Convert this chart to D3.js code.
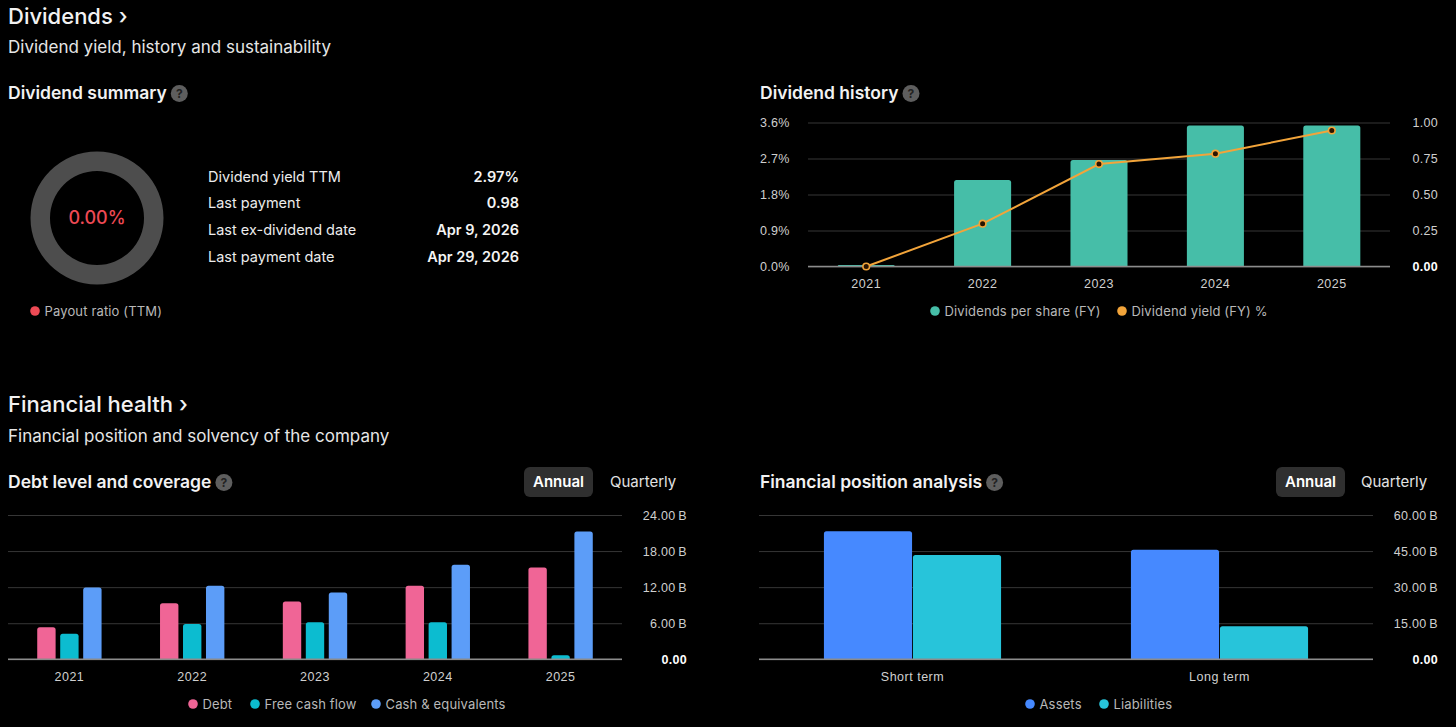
<!DOCTYPE html>
<html>
<head>
<meta charset="utf-8">
<script src="https://cdn.jsdelivr.net/npm/d3@7"></script>
<style>
html, body { margin: 0; background: #000; }
svg { display: block; font-family: Inter, "Noto Sans", sans-serif; }
</style>
</head>
<body>
<svg id="chart" width="1456" height="727"></svg>
<script>
// dividend summary
var summaryLabels = ["Dividend yield TTM", "Last payment", "Last ex-dividend date", "Last payment date"];
var summaryValues = ["2.97%", "0.98", "Apr 9, 2026", "Apr 29, 2026"];
var payoutRatio = [0.00];

// dividend history
var divYears = ["2021", "2022", "2023", "2024", "2025"];
var dividendsPerShare = [0.01, 0.60, 0.74, 0.98, 0.98];
var dividendYield = [0.00, 1.07, 2.56, 2.82, 3.40];
var yieldTicks = [0, 0.9, 1.8, 2.7, 3.6];
var dpsTicks = [0, 0.25, 0.5, 0.75, 1.0];

// debt level and coverage (billions)
var debtYears = ["2021", "2022", "2023", "2024", "2025"];
var debtSeries = ["Debt", "Free cash flow", "Cash & equivalents"];
var debt = [5.33, 9.33, 9.6, 12.22, 15.27];
var freeCashFlow = [4.27, 5.88, 6.17, 6.17, 0.67];
var cashEquivalents = [11.93, 12.22, 11.1, 15.72, 21.27];
var debtTicks = [0, 6, 12, 18, 24];

// financial position analysis (billions)
var positionTerms = ["Short term", "Long term"];
var positionSeries = ["Assets", "Liabilities"];
var assets = [53.2, 45.6];
var liabilities = [43.4, 13.7];
var positionTicks = [0, 15, 30, 45, 60];

var svg = d3.select("#chart");
svg.append("rect").attr("width", 1456).attr("height", 727).attr("fill", "#000");

// ---------- helpers ----------
function heading(x, y, txt, size, weight, color) {
    return svg.append("text").attr("x", x).attr("y", y)
        .attr("fill", color || "#f2f2f2")
        .style("font-size", size + "px").style("font-weight", weight)
        .text(txt);
}

function helpIcon(t) {
    var box = t.node().getBBox();
    var cx = box.x + box.width + 12.5, cy = box.y + box.height / 2 + 1;
    svg.append("circle").attr("cx", cx).attr("cy", cy).attr("r", 8.5).attr("fill", "#5e5e5e");
    svg.append("text").attr("x", cx).attr("y", cy).attr("dy", "0.36em")
        .attr("text-anchor", "middle").attr("fill", "#222")
        .style("font-size", "12px").style("font-weight", 700).text("?");
}

function topRounded(x, y, w, h, r) {
    r = Math.min(r, h, w / 2);
    return "M" + x + "," + (y + h) + "V" + (y + r) + "Q" + x + "," + y + " " + (x + r) + "," + y +
        "H" + (x + w - r) + "Q" + (x + w) + "," + y + " " + (x + w) + "," + (y + r) + "V" + (y + h) + "Z";
}

function grid(y, ticks, x0, x1) {
    svg.append("g").attr("transform", "translate(" + x0 + ",0)")
        .call(d3.axisRight(y).tickValues(ticks).tickSize(x1 - x0).tickFormat(""))
        .call(function (a) { a.select(".domain").remove(); })
        .call(function (a) { a.selectAll(".tick line").attr("stroke", "#363636"); });
}

function baseline(y, x0, x1) {
    svg.append("line").attr("x1", x0).attr("x2", x1)
        .attr("y1", y(0)).attr("y2", y(0))
        .attr("stroke", "#8c8c8c").attr("stroke-width", 1.5);
}

function yLabels(y, ticks, xPos, anchor, fmt) {
    svg.append("g").attr("transform", "translate(" + xPos + ",0)")
        .attr("font-family", null).attr("font-size", null)
        .call(d3.axisRight(y).tickValues(ticks).tickSize(0).tickPadding(0).tickFormat(fmt))
        .call(function (a) { a.select(".domain").remove(); })
        .call(function (a) {
            a.selectAll("text")
                .attr("text-anchor", anchor)
                .attr("fill", function (d) { return d === 0 && anchor === "end" ? "#ffffff" : "#cfcfcf"; })
                .style("font-size", "12.5px")
                .style("font-weight", function (d) { return d === 0 && anchor === "end" ? 700 : 400; })
                .style("letter-spacing", "0.3px");
        });
}

function xLabels(x, yPos) {
    svg.append("g").attr("transform", "translate(0," + yPos + ")")
        .attr("font-family", null).attr("font-size", null)
        .call(d3.axisBottom(x).tickSize(0).tickPadding(13))
        .call(function (a) { a.select(".domain").remove(); })
        .call(function (a) {
            a.selectAll("text").attr("fill", "#d0d0d0")
                .style("font-size", "12.5px").style("letter-spacing", "0.5px");
        });
}

function legend(items, xs, y) {
    items.forEach(function (it, i) {
        svg.append("circle").attr("cx", xs[i]).attr("cy", y).attr("r", 4.8).attr("fill", it.color);
        svg.append("text").attr("x", xs[i] + 9.5).attr("y", y).attr("dy", "0.35em")
            .attr("fill", "#b8b8b8").style("font-size", "13px").style("letter-spacing", "0.15px").text(it.name);
    });
}

function toggle(xBtn, xQuarter) {
    svg.append("rect").attr("x", xBtn).attr("y", 467).attr("width", 69).attr("height", 30)
        .attr("rx", 6).attr("fill", "#2f2f2f");
    svg.append("text").attr("x", xBtn + 34.5).attr("y", 482).attr("dy", "0.35em")
        .attr("text-anchor", "middle").attr("fill", "#fff")
        .style("font-size", "15px").style("font-weight", 600).text("Annual");
    svg.append("text").attr("x", xQuarter).attr("y", 482).attr("dy", "0.35em")
        .attr("fill", "#e2e2e2").style("font-size", "15px").text("Quarterly");
}

// ---------- Dividends header ----------
heading(8, 24, "Dividends \u203A", 22, 500);
heading(8, 53, "Dividend yield, history and sustainability", 17, 400, "#e6e6e6");
helpIcon(heading(8, 99, "Dividend summary", 17.5, 600));
helpIcon(heading(760, 99, "Dividend history", 17.5, 600));

// ---------- donut ----------
var cx = 97, cy = 218;
var arc = d3.arc().innerRadius(47).outerRadius(66.5);
svg.append("path").attr("transform", "translate(" + cx + "," + cy + ")")
    .attr("d", arc({ startAngle: 0, endAngle: 2 * Math.PI })).attr("fill", "#4d4d4d");
svg.append("path").attr("transform", "translate(" + cx + "," + cy + ")")
    .attr("d", arc({ startAngle: 0, endAngle: 2 * Math.PI * payoutRatio[0] / 100 })).attr("fill", "#ee4a55");
svg.append("text").attr("x", cx).attr("y", cy).attr("dy", "0.35em").attr("text-anchor", "middle")
    .attr("fill", "#ee4a55").style("font-size", "18px").style("font-weight", 500)
    .text(payoutRatio[0].toFixed(2) + "%");
legend([{ name: "Payout ratio (TTM)", color: "#ee4a55" }], [35], 311);

// summary table
summaryLabels.forEach(function (lab, i) {
    var y = 181.5 + i * 26.7;
    svg.append("text").attr("x", 208).attr("y", y).attr("fill", "#ececec")
        .style("font-size", "14.5px").text(lab);
    svg.append("text").attr("x", 519).attr("y", y).attr("text-anchor", "end").attr("fill", "#f4f4f4")
        .style("font-size", "14.5px").style("font-weight", 600).text(summaryValues[i]);
});

// ---------- dividend history ----------
var dx = d3.scaleBand().domain(divYears).range([808, 1390]).paddingInner(0.51).paddingOuter(0.255);
var yDps = d3.scaleLinear().domain([0, 1]).range([266.5, 122.5]);
var yYield = d3.scaleLinear().domain([0, 3.6]).range([266.5, 122.5]);

grid(yDps, dpsTicks, 808, 1390);
svg.append("g").selectAll("path").data(divYears).enter().append("path")
    .attr("d", function (d, i) {
        var top = yDps(dividendsPerShare[i]);
        return topRounded(dx(d), top, dx.bandwidth(), yDps(0) - top, 2.5);
    })
    .attr("fill", "#46bea8");
baseline(yDps, 808, 1390);

var line = d3.line()
    .x(function (d, i) { return dx(divYears[i]) + dx.bandwidth() / 2; })
    .y(function (d) { return yYield(d); });
svg.append("path").datum(dividendYield).attr("d", line)
    .attr("fill", "none").attr("stroke", "#f2a43a").attr("stroke-width", 2);
svg.append("g").selectAll("circle").data(dividendYield).enter().append("circle")
    .attr("cx", function (d, i) { return dx(divYears[i]) + dx.bandwidth() / 2; })
    .attr("cy", function (d) { return yYield(d); })
    .attr("r", 3.3).attr("fill", "#2a1400").attr("stroke", "#f2a43a").attr("stroke-width", 1.6);

yLabels(yYield, yieldTicks, 760, "start", function (d) { return d.toFixed(1) + "%"; });
yLabels(yDps, dpsTicks, 1438, "end", function (d) { return d.toFixed(2); });
xLabels(dx, 266.5);
legend([{ name: "Dividends per share (FY)", color: "#46bea8" },
        { name: "Dividend yield (FY) %", color: "#f2a43a" }], [935, 1122], 311);

// ---------- Financial health header ----------
heading(8, 412, "Financial health \u203A", 22, 500);
heading(8, 442, "Financial position and solvency of the company", 17, 400, "#e6e6e6");
helpIcon(heading(8, 488, "Debt level and coverage", 17.5, 600));
helpIcon(heading(760, 488, "Financial position analysis", 17.5, 600));
toggle(524, 610);
toggle(1276, 1361);

// ---------- debt level and coverage ----------
var debtColors = ["#f06596", "#0cbcd0", "#5c9df8"];
var debtValues = [debt, freeCashFlow, cashEquivalents];
var bx = d3.scaleBand().domain(debtYears).range([8, 622]).paddingInner(0.476).paddingOuter(0.238);
var bsub = d3.scaleBand().domain(debtSeries).range([0, bx.bandwidth()]).paddingInner(0.2);
var by = d3.scaleLinear().domain([0, 24]).range([659.3, 515]);

grid(by, debtTicks, 8, 622);
svg.append("g").selectAll("g").data(debtYears).enter().append("g")
    .attr("transform", function (d) { return "translate(" + bx(d) + ",0)"; })
    .selectAll("path")
    .data(function (d, i) { return debtSeries.map(function (s, j) { return { key: s, value: debtValues[j][i], color: debtColors[j] }; }); })
    .enter().append("path")
    .attr("d", function (d) {
        var top = by(d.value);
        return topRounded(bsub(d.key), top, bsub.bandwidth(), by(0) - top, 2.5);
    })
    .attr("fill", function (d) { return d.color; });
baseline(by, 8, 622);
yLabels(by, debtTicks, 687, "end", function (d) { return d === 0 ? "0.00" : d.toFixed(2) + "\u2009B"; });
xLabels(bx, 659.3);
legend(debtSeries.map(function (s, j) { return { name: s, color: debtColors[j] }; }), [193, 255, 376], 704);

// ---------- financial position analysis ----------
var posColors = ["#4689ff", "#27c4da"];
var posValues = [assets, liabilities];
var px = d3.scaleBand().domain(positionTerms).range([759, 1373]).paddingInner(0.423).paddingOuter(0.2115);
var psub = d3.scaleBand().domain(positionSeries).range([0, px.bandwidth()]).paddingInner(0.01);
var py = d3.scaleLinear().domain([0, 60]).range([659.3, 515]);

grid(py, positionTicks, 759, 1373);
svg.append("g").selectAll("g").data(positionTerms).enter().append("g")
    .attr("transform", function (d) { return "translate(" + px(d) + ",0)"; })
    .selectAll("path")
    .data(function (d, i) { return positionSeries.map(function (s, j) { return { key: s, value: posValues[j][i], color: posColors[j] }; }); })
    .enter().append("path")
    .attr("d", function (d) {
        var top = py(d.value);
        return topRounded(psub(d.key), top, psub.bandwidth(), py(0) - top, 2.5);
    })
    .attr("fill", function (d) { return d.color; });
baseline(py, 759, 1373);
yLabels(py, positionTicks, 1438, "end", function (d) { return d === 0 ? "0.00" : d.toFixed(2) + "\u2009B"; });
xLabels(px, 659.3);
legend(positionSeries.map(function (s, j) { return { name: s, color: posColors[j] }; }), [1030, 1104], 704);
</script>
</body>
</html>
